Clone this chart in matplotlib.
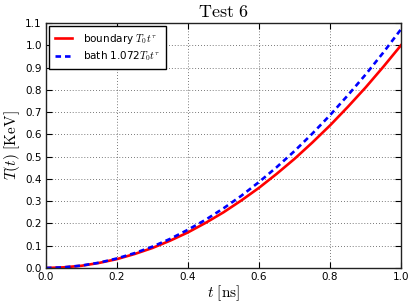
import matplotlib
matplotlib.use("Agg")
import matplotlib.pyplot as plt

t = [0.00, 0.05, 0.10, 0.15, 0.20, 0.25, 0.30, 0.35, 0.40, 0.45, 0.50,
     0.55, 0.60, 0.65, 0.70, 0.75, 0.80, 0.85, 0.90, 0.95, 1.00]
boundary = [0.000, 0.003, 0.010, 0.023, 0.040, 0.063, 0.090, 0.123, 0.160, 0.203, 0.250,
            0.303, 0.360, 0.423, 0.490, 0.563, 0.640, 0.723, 0.810, 0.903, 1.000]
bath = [0.000, 0.003, 0.011, 0.024, 0.043, 0.067, 0.096, 0.131, 0.172, 0.217, 0.268,
        0.324, 0.386, 0.453, 0.525, 0.603, 0.686, 0.775, 0.868, 0.967, 1.072]
xticks = [0.0, 0.2, 0.4, 0.6, 0.8, 1.0]
yticks = [0.0, 0.1, 0.2, 0.3, 0.4, 0.5, 0.6, 0.7, 0.8, 0.9, 1.0, 1.1]

plt.rcParams['mathtext.fontset'] = 'cm'
plt.rcParams['font.family'] = 'DejaVu Sans'

fig = plt.figure(figsize=(4.15, 3.08), dpi=100)
ax = fig.add_axes([46/415, 1-268/308, (401-46)/415, (268-23)/308])

ax.plot(t, boundary, color='red', lw=1.9, label=r'boundary $T_0t^\tau$')
ax.plot(t, bath, color='blue', lw=1.9, ls=(0, (2.1, 1.5)), label=r'bath 1.072$T_0t^\tau$')

ax.set_xlim(0, 1.0)
ax.set_ylim(0, 1.1)
ax.set_xticks(xticks)
ax.set_yticks(yticks)
ax.set_xticklabels([f'{v:.1f}' for v in xticks])
ax.set_yticklabels([f'{v:.1f}' for v in yticks])
ax.tick_params(direction='in', top=True, right=True, labelsize=7.5, length=4, pad=3)
ax.grid(True, color='black', ls=(0, (1, 2.5)), lw=0.6, alpha=0.7)
for s in ax.spines.values():
    s.set_linewidth(1.0)
    s.set_color('#222222')

ax.set_title(r'$\mathrm{Test\ 6}$', fontsize=13, pad=4)
ax.set_xlabel(r'$t\ [\mathrm{ns}]$', fontsize=11, labelpad=1)
ax.set_ylabel(r'$T(t)\ [\mathrm{KeV}]$', fontsize=11, labelpad=2)

leg = ax.legend(loc='upper left', fontsize=7.5, fancybox=False, framealpha=1,
                edgecolor='black', handlelength=1.63, handletextpad=1.05,
                borderpad=0.55, labelspacing=0.35, borderaxespad=0.3)
leg.get_frame().set_linewidth(1.0)

fig.savefig('out.png', dpi=100, facecolor='white')
